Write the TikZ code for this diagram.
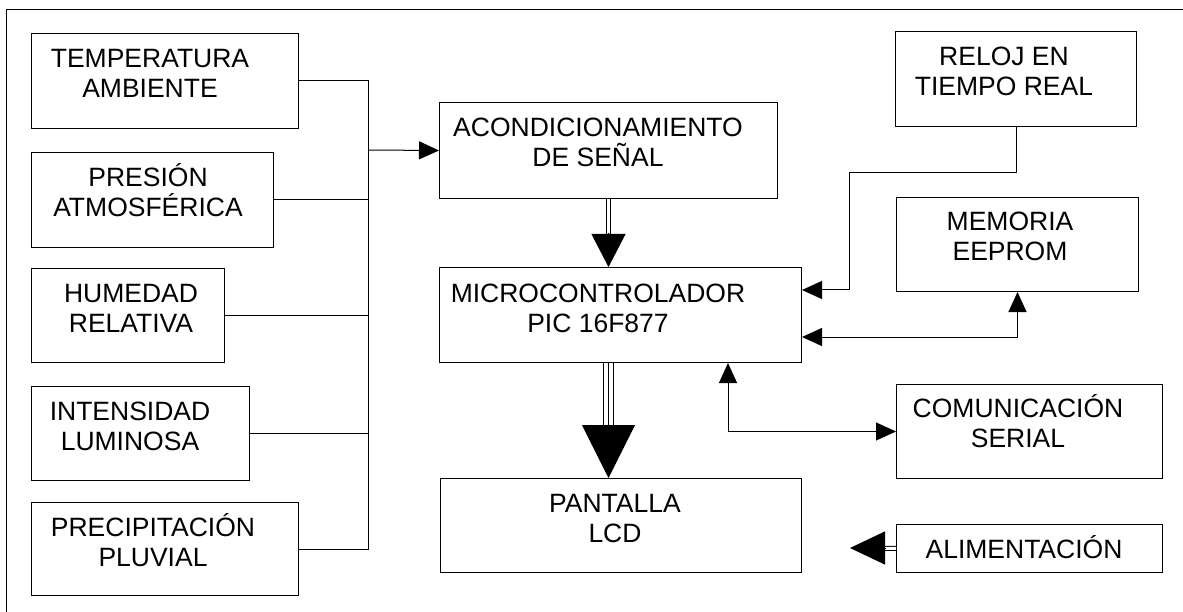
\documentclass[tikz,border=0pt]{standalone}
\usepackage{fontspec}
\setmainfont{Liberation Sans}
\usetikzlibrary{arrows.meta,calc}

\tikzset{
  blok/.style={draw, inner sep=0pt, anchor=north west},
  txt/.style={font=\fontsize{26.5pt}{30pt}\selectfont, align=center, anchor=base, inner sep=0pt},
  tri/.style={-{Triangle[length=20pt,width=18pt]}},
  tritri/.style={{Triangle[length=20pt,width=18pt]}-{Triangle[length=20pt,width=18pt]}},
  dbl/.style={double, double distance=3pt}
}

\begin{document}
\begin{tikzpicture}[x=1pt, y=-1pt, line width=1pt]
  \useasboundingbox (0,0) rectangle (1183,612);
  % marco
  \draw (6,612) -- (6,10) -- (1183,10);

  % sensores (izquierda)
  \node[blok, minimum width=267pt, minimum height=95pt] (temp) at (31,33) {};
  \node[blok, minimum width=242pt, minimum height=95pt] (pres) at (31,152) {};
  \node[blok, minimum width=193pt, minimum height=94pt] (hum) at (31,268) {};
  \node[blok, minimum width=218pt, minimum height=94pt] (int) at (31,386) {};
  \node[blok, minimum width=267pt, minimum height=93pt] (prec) at (31,502) {};

  \node[txt] (tempT) at (150,98) {TEMPERATURA\\AMBIENTE};
  \node[txt] (presT) at (148,217) {PRESIÓN\\ATMOSFÉRICA};
  \node[txt] (humT) at (131,332) {HUMEDAD\\RELATIVA};
  \node[txt] (intT) at (130,450) {INTENSIDAD\\LUMINOSA};
  \node[txt] (precT) at (153,566) {PRECIPITACIÓN\\PLUVIAL};

  % bloques centrales
  \node[blok, minimum width=338pt, minimum height=96pt] (acond) at (439,102) {};
  \node[blok, minimum width=362pt, minimum height=95pt] (micro) at (439,267) {};
  \node[blok, minimum width=361pt, minimum height=94pt] (pant) at (440,478) {};

  \node[txt] (acondT) at (598,167) {ACONDICIONAMIENTO\\DE SEÑAL};
  \node[txt] (microT) at (598,332) {MICROCONTROLADOR\\PIC 16F877};
  \node[txt] (pantT) at (615,542) {PANTALLA\\LCD};

  % bloques derecha
  \node[blok, minimum width=241pt, minimum height=95pt] (reloj) at (895,31) {};
  \node[blok, minimum width=242pt, minimum height=94pt] (mem) at (896,197) {};
  \node[blok, minimum width=266pt, minimum height=94pt] (com) at (896,384) {};
  \node[blok, minimum width=266pt, minimum height=48pt] (alim) at (896,524) {};

  \node[txt] (relojT) at (1004,96) {RELOJ EN\\TIEMPO REAL};
  \node[txt] (memT) at (1010,261) {MEMORIA\\EEPROM};
  \node[txt] (comT) at (1018,447) {COMUNICACIÓN\\SERIAL};
  \node[txt] (alimT) at (1024,558) {ALIMENTACIÓN};

  % bus de sensores
  \coordinate (bus) at (368,150);
  \foreach \s in {temp,pres,hum,int,prec}
    \draw (\s.east) -| (bus);
  \draw[tri] (bus) -- (acond.west);

  % acondicionamiento -> micro
  \draw[dbl, shorten >=32pt] (acond.south) -- (acond.south |- micro.north);
  \draw[-{Triangle[length=33pt,width=34pt]}] ($(acond.south |- micro.north)+(0,-34)$) -- (acond.south |- micro.north);

  % micro -> pantalla
  \draw[double, double distance=9pt, shorten >=52pt] (acond.south |- micro.south) -- (acond.south |- pant.north);
  \draw[-{Triangle[length=53pt,width=53pt]}] (acond.south |- micro.south) -- (acond.south |- pant.north);

  % reloj, memoria, comunicacion
  \coordinate (rbend) at (849,173);
  \draw[tri] (reloj.south) |- (rbend) -- (rbend |- 0,290) -- (micro.east |- 0,290);
  \draw[tritri] (micro.east |- 0,337) -| (mem.south);
  \draw[tritri] (com.west) -| (micro.south -| 728,0);

  % alimentacion
  \coordinate (pwr) at (850,548);
  \draw[dbl, shorten >=34pt] (alim.west) -- (pwr);
  \draw[-{Triangle[length=35pt,width=33pt]}] ($(pwr)+(36,0)$) -- (pwr);
\end{tikzpicture}
\end{document}
